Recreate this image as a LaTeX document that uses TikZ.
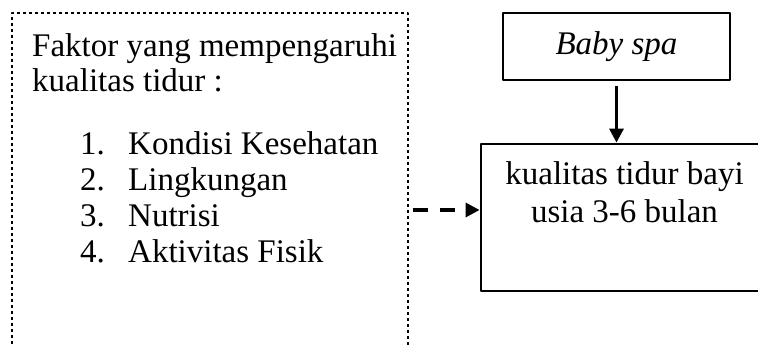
\documentclass[tikz,border=0pt]{standalone}
\usepackage{fontspec}
\setmainfont{Liberation Serif}
\usetikzlibrary{arrows.meta}

\tikzset{
  faktorbox/.style={draw, dashed, dash pattern=on 3pt off 3pt, line width=1.1pt},
  solidbox/.style={draw, line width=2.8pt, inner sep=0pt},
  flow/.style={line width=3.2pt, -{Triangle[length=14pt,width=14pt]}},
  item/.style={anchor=base west, inner sep=0pt}
}

\begin{document}
\begin{tikzpicture}[x=1pt, y=-1pt, line join=round, font=\fontsize{33}{35}\selectfont]

  \useasboundingbox (0,0) rectangle (758,347);

  % left box (runs past the bottom edge)
  \node[faktorbox, minimum width=396pt, minimum height=350pt] (faktor) at (210,188) {};
  \node[item] (judul1) at (32,57) {Faktor yang mempengaruhi};
  \node[item] (judul2) at (32,92) {kualitas tidur :};

  % list of factors
  \foreach \t [count=\i] in {Kondisi Kesehatan, Lingkungan, Nutrisi, Aktivitas Fisik}{
    \node[item] (no\i) at (80,119+36*\i) {\i.};
    \node[item] (isi\i) at (128,119+36*\i) {\t};
  }

  % right side
  \node[solidbox, minimum width=227pt, minimum height=67pt] (spa) at (616.5,46.5) {\itshape Baby spa};
  \node[solidbox, minimum width=287pt, minimum height=147pt] (tidur) at (624.5,217.5) {};
  \node[anchor=base, align=center, inner sep=0pt] (tidurteks) at (624.5,223) {kualitas tidur bayi\\[3pt]usia 3-6 bulan};

  % arrows
  \draw[flow] ([yshift=-5pt]spa.south) -- (spa.south |- tidur.north);
  \draw[flow, dashed, dash pattern=on 15pt off 12pt] ([xshift=4pt]faktor.east |- 0,210) -- (tidur.west |- 0,210);

\end{tikzpicture}
\end{document}
